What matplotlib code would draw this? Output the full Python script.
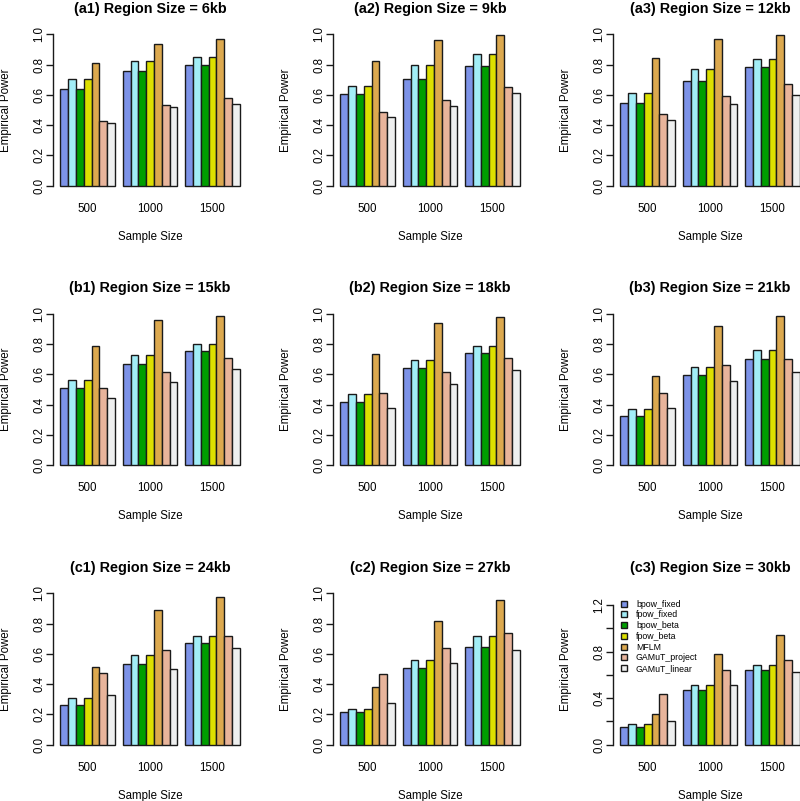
import numpy as np
import matplotlib
matplotlib.use("Agg")
import matplotlib.pyplot as plt
from matplotlib.patches import Patch

plt.rcParams['font.family'] = ['Liberation Sans', 'DejaVu Sans']

# ---------------- data ----------------
methods = ["bpow_fixed", "fpow_fixed", "bpow_beta", "fpow_beta",
           "MFLM", "GAMuT_project", "GAMuT_linear"]
colors = ["#7D93E8", "#A2EDF7", "#009E00", "#DDE000",
          "#DCA94F", "#E8B49B", "#EEEFEF"]
sample_sizes = ["500", "1000", "1500"]
panel_ids = ["a1", "a2", "a3", "b1", "b2", "b3", "c1", "c2", "c3"]
region_kb = [6, 9, 12, 15, 18, 21, 24, 27, 30]
y_upper = [1, 1, 1, 1, 1, 1, 1, 1, 1.3]

# each row: one panel, values for sample sizes 500, 1000, 1500
bpow_fixed = [[0.637, 0.756, 0.796], [0.604, 0.708, 0.791], [0.545, 0.695, 0.787],
              [0.507, 0.669, 0.754], [0.421, 0.643, 0.743], [0.325, 0.594, 0.700],
              [0.263, 0.531, 0.675], [0.213, 0.507, 0.647], [0.151, 0.469, 0.642]]
fpow_fixed = [[0.703, 0.826, 0.853], [0.662, 0.796, 0.873], [0.615, 0.769, 0.840],
              [0.566, 0.728, 0.803], [0.469, 0.697, 0.787], [0.371, 0.647, 0.759],
              [0.311, 0.590, 0.721], [0.239, 0.559, 0.717], [0.177, 0.517, 0.688]]
bpow_beta = [[0.637, 0.756, 0.796], [0.604, 0.708, 0.791], [0.545, 0.695, 0.787],
             [0.507, 0.669, 0.754], [0.421, 0.643, 0.743], [0.325, 0.594, 0.700],
             [0.263, 0.531, 0.675], [0.213, 0.507, 0.647], [0.151, 0.469, 0.642]]
fpow_beta = [[0.703, 0.826, 0.853], [0.662, 0.796, 0.873], [0.615, 0.769, 0.840],
             [0.566, 0.728, 0.803], [0.469, 0.697, 0.787], [0.371, 0.647, 0.759],
             [0.311, 0.590, 0.721], [0.239, 0.559, 0.717], [0.177, 0.517, 0.688]]
MFLM = [[0.809, 0.934, 0.969], [0.822, 0.960, 0.993], [0.842, 0.971, 0.993],
        [0.785, 0.961, 0.987], [0.732, 0.941, 0.982], [0.588, 0.919, 0.989],
        [0.511, 0.890, 0.978], [0.379, 0.820, 0.958], [0.268, 0.777, 0.941]]
GAMuT_project = [[0.426, 0.536, 0.578], [0.484, 0.565, 0.653], [0.477, 0.596, 0.673],
                 [0.509, 0.618, 0.706], [0.480, 0.618, 0.711], [0.474, 0.660, 0.704],
                 [0.471, 0.625, 0.719], [0.469, 0.636, 0.735], [0.433, 0.642, 0.728]]
GAMuT_linear = [[0.415, 0.523, 0.541], [0.457, 0.525, 0.611], [0.433, 0.538, 0.600],
                [0.447, 0.548, 0.634], [0.375, 0.535, 0.632], [0.375, 0.559, 0.618],
                [0.331, 0.498, 0.636], [0.276, 0.537, 0.629], [0.208, 0.517, 0.628]]

all_series = [bpow_fixed, fpow_fixed, bpow_beta, fpow_beta,
              MFLM, GAMuT_project, GAMuT_linear]

# ---------------- layout ----------------
W, H = 800, 801
fig = plt.figure(figsize=(W / 100, H / 100), dpi=100)
fig.patch.set_facecolor("white")

ax_w, ax_h = 193.9, 163.5
edge = "#1a1a1a"
fs = 8.3
nm = len(methods)
ng = len(sample_sizes)

for k, pid in enumerate(panel_ids):
    r, c = divmod(k, 3)
    left_px = 53.1 + 280 * c
    top_px = 28.3 + 279.5 * r
    ax = fig.add_axes([left_px / W, 1 - (top_px + ax_h) / H, ax_w / W, ax_h / H])
    ax.patch.set_visible(False)

    for i, (series, col) in enumerate(zip(all_series, colors)):
        xs = [1 + g * (nm + 1) + i for g in range(ng)]
        ax.bar(xs, series[k], width=1, align="edge", color=col,
               edgecolor=edge, linewidth=1.0, zorder=2)

    lo, hi = 1, ng * (nm + 1)
    pad = 0.04 * (hi - lo)
    ax.set_xlim(lo - pad, hi + pad)
    top = y_upper[k]
    ax.set_ylim(-0.04 * top, 1.04 * top)

    for s in ["top", "right", "bottom"]:
        ax.spines[s].set_visible(False)
    ticks = np.arange(0, top + 1e-9, 0.2)
    ax.spines["left"].set_bounds(0, ticks[-1])
    ax.spines["left"].set_linewidth(1.0)
    ax.spines["left"].set_color("#1a1a1a")
    ax.set_yticks(ticks)
    if top > 1.05:
        labs = ["%.1f" % t if (round(t / 0.2) % 2 == 0) else "" for t in ticks]
    else:
        labs = ["%.1f" % t for t in ticks]
    ax.set_yticklabels(labs)
    ax.tick_params(axis="y", length=5.0, width=1.0, color="#1a1a1a", pad=0.6,
                   labelsize=fs, labelrotation=90)
    for lbl in ax.get_yticklabels():
        lbl.set_va("center")

    centers = [1 + g * (nm + 1) + nm / 2 for g in range(ng)]
    ax.set_xticks(centers)
    ax.set_xticklabels(sample_sizes)
    ax.tick_params(axis="x", length=0, pad=8.0, labelsize=fs)

    ax.text(0.5, (191.8 - 239.8) / ax_h, "Sample Size", transform=ax.transAxes,
            ha="center", va="baseline", fontsize=fs)
    ax.text(-47 / ax_w, 0.5, "Empirical Power", transform=ax.transAxes,
            ha="center", va="center", rotation=90, fontsize=fs)
    ax.text(0.5, (191.8 - 12.6) / ax_h,
            "(%s) Region Size = %dkb" % (pid, region_kb[k]),
            transform=ax.transAxes, ha="center", va="baseline",
            fontsize=10.4, fontweight="bold")

    if k == len(panel_ids) - 1:
        handles = [Patch(facecolor=col, edgecolor=edge, linewidth=1.0)
                   for col in colors]
        ax.legend(handles, methods, loc="upper left",
                  bbox_to_anchor=(0.039, 0.924), frameon=False, fontsize=6.3,
                  handlelength=0.75, handleheight=0.7, handletextpad=1.0,
                  labelspacing=0.2, borderpad=0, borderaxespad=0)

fig.savefig("out.png", dpi=100, facecolor="white")
